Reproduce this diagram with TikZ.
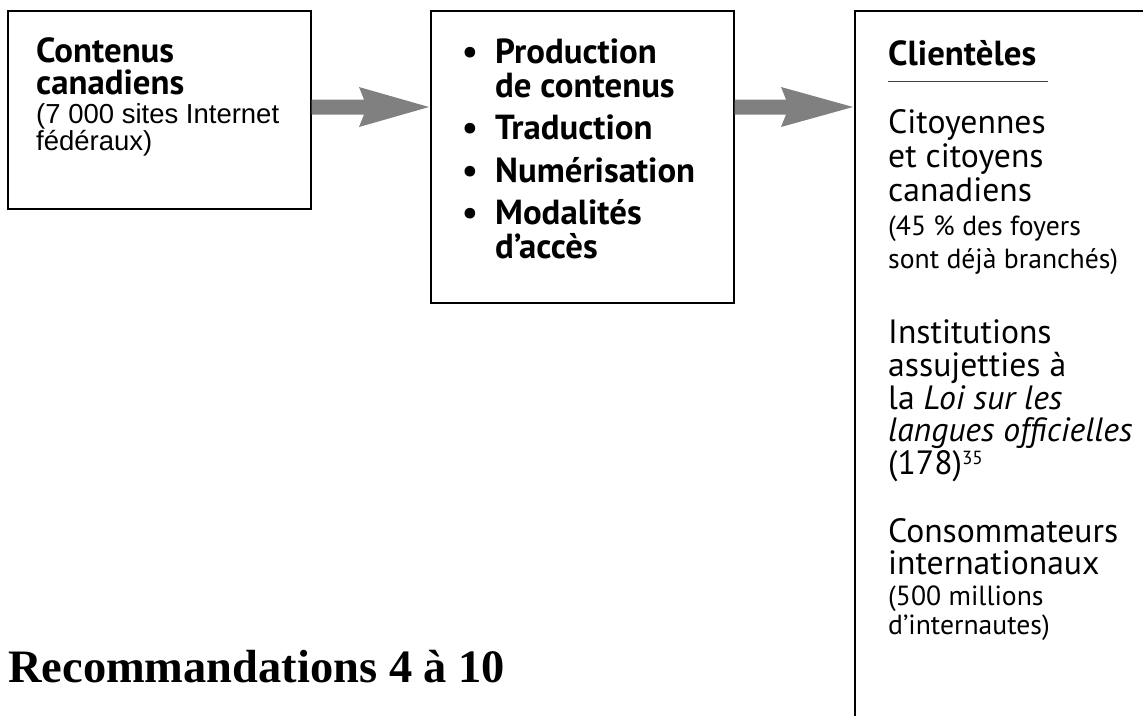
\documentclass[tikz,border=0pt]{standalone}
\usepackage{fontspec}
\usetikzlibrary{calc}
\newfontfamily\hsans{PT Sans}
\newfontfamily\arialf{Liberation Sans}
\newfontfamily\serifb{Liberation Serif}
\definecolor{arrowgray}{RGB}{128,128,128}
\newlength\tmpw
\newcommand\calcsize[4]{%
  \settowidth\tmpw{#2\fontsize{10}{10}\selectfont #3}%
  \pgfmathsetmacro#1{10*#4/\tmpw}%
  \global\let#1#1}
\AtBeginDocument{%
\calcsize{\sizeH}{\hsans\bfseries}{Numérisation}{200}%
\calcsize{\sizeR}{\hsans}{Consommateurs}{230}%
\calcsize{\sizeS}{\hsans}{sont déjà branchés)}{230}%
\calcsize{\sizeA}{\arialf}{(7 000 sites Internet}{243}%
\calcsize{\sizeT}{\serifb\bfseries}{Recommandations 4 à 10}{497}%
}
\begin{document}
\begin{tikzpicture}[x=1pt,y=-1pt,
  frame/.style={draw=black,line width=1.6pt,inner sep=0pt,anchor=north west},
  arrowfill/.style={fill=arrowgray,draw=none},
  hd/.style={anchor=base west,inner sep=0pt,font=\hsans\bfseries\fontsize{\sizeH}{\sizeH}\selectfont},
  rg/.style={anchor=base west,inner sep=0pt,font=\hsans\fontsize{\sizeR}{\sizeR}\selectfont},
  sm/.style={anchor=base west,inner sep=0pt,font=\hsans\fontsize{\sizeS}{\sizeS}\selectfont},
  ar/.style={anchor=base west,inner sep=0pt,font=\arialf\fontsize{\sizeA}{\sizeA}\selectfont},
  ttl/.style={anchor=base west,inner sep=0pt,font=\serifb\bfseries\fontsize{\sizeT}{\sizeT}\selectfont},
  bul/.style={anchor=base west,inner sep=0pt,font=\hsans\bfseries\fontsize{\sizeH}{\sizeH}\selectfont}
]
\useasboundingbox (0,0) rectangle (1143,715);

% boxes
\node[frame,minimum width=303pt,minimum height=198pt] (b1) at (7,10) {};
\node[frame,minimum width=303pt,minimum height=292pt] (b2) at (430,10) {};
\node[frame,minimum width=400pt,minimum height=760pt] (b3) at (854,10) {};

% arrows
\coordinate (a1s) at (b1.east |- 0,107);
\coordinate (a1e) at (b2.west |- 0,107);
\fill[arrowfill] ($(a1s)+(0,-7.5)$) -- ($(a1e)+(-66,-7.5)$) -- ($(a1e)+(-71,-20)$)
  -- ($(a1e)+(-1,0)$) -- ($(a1e)+(-71,20)$) -- ($(a1e)+(-66,7.5)$) -- ($(a1s)+(0,7.5)$) -- cycle;
\coordinate (a2s) at (b2.east |- 0,107);
\coordinate (a2e) at (b3.west |- 0,107);
\fill[arrowfill] ($(a2s)+(0,-7.5)$) -- ($(a2e)+(-68,-7.5)$) -- ($(a2e)+(-73,-20)$)
  -- ($(a2e)+(-1,0)$) -- ($(a2e)+(-73,20)$) -- ($(a2e)+(-68,7.5)$) -- ($(a2s)+(0,7.5)$) -- cycle;

% box 1 text
\node[hd] (t11) at (36,62) {Contenus};
\node[hd] (t12) at (36,94) {canadiens};
\node[ar] (t13) at (36,123) {(7 000 sites Internet};
\node[ar] (t14) at (36,150) {fédéraux)};

% box 2 text
\node[bul] (u1) at (462,63) {•};
\node[hd] (t21) at (495,63) {Production};
\node[hd] (t22) at (495,97) {de contenus};
\node[bul] (u2) at (462,139) {•};
\node[hd] (t23) at (495,139) {Traduction};
\node[bul] (u3) at (462,182) {•};
\node[hd] (t24) at (495,182) {Numérisation};
\node[bul] (u4) at (462,224) {•};
\node[hd] (t25) at (495,224) {Modalités};
\node[hd] (t26) at (495,258) {d’accès};

% box 3 text
\node[hd] (t30) at (888,65) {Clientèles};
\coordinate (ul1) at (888,81);
\coordinate (ul2) at (1048,81);
\draw[line width=1pt,black!75] (ul1) -- (ul2);
\node[rg] (t31) at (888,133) {Citoyennes};
\node[rg] (t32) at (888,167) {et citoyens};
\node[rg] (t33) at (888,201) {canadiens};
\node[sm] (t34) at (888,235) {(45 \% des foyers};
\node[sm] (t35) at (888,268) {sont déjà branchés)};
\node[rg] (t36) at (888,343) {Institutions};
\node[rg] (t37) at (888,376) {assujetties à};
\node[rg] (t38) at (888,409) {la \textit{Loi sur les}};
\node[rg] (t39) at (888,441) {\textit{langues officielles}};
\node[rg] (t3a) at (888,474) {(178)\raisebox{0.28em}{\fontsize{19}{19}\selectfont 35}};
\node[rg] (t3b) at (888,542) {Consommateurs};
\node[rg] (t3c) at (888,574) {internationaux};
\node[sm] (t3d) at (888,605) {(500 millions};
\node[sm] (t3e) at (888,634) {d’internautes)};

% title
\node[ttl] (title) at (8,682) {Recommandations 4 à 10};
\end{tikzpicture}
\end{document}
